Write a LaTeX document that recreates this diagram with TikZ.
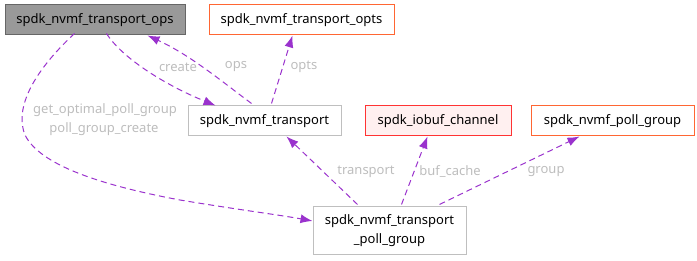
\documentclass[tikz,border=0pt]{standalone}
\usepackage{fontspec}
\setmainfont{Noto Sans}
\usetikzlibrary{arrows.meta,calc}
\definecolor{edgecol}{HTML}{9A32CD}
\definecolor{labcol}{HTML}{BDBDBD}
\definecolor{grayfill}{HTML}{999999}
\definecolor{grayline}{HTML}{666666}
\definecolor{boxline}{HTML}{BFBFBF}
\definecolor{orangeline}{HTML}{FF6633}
\definecolor{redline}{HTML}{FF3333}
\definecolor{pinkfill}{HTML}{FFF0F0}
\tikzset{
  box/.style={draw=boxline, line width=1pt, fill=white, inner sep=0pt, minimum height=30, align=center, font=\fontsize{13}{19}\selectfont},
  mainbox/.style={box, draw=grayline, fill=grayfill},
  extbox/.style={box, draw=orangeline},
  redbox/.style={box, draw=redline, fill=pinkfill},
  rel/.style={draw=edgecol, line width=1pt, dash pattern=on 6pt off 4pt, -{Latex[length=12pt,width=9pt]}},
  lab/.style={text=labcol, font=\fontsize{13}{19}\selectfont, inner sep=1pt}
}
\begin{document}
\begin{tikzpicture}[x=1pt,y=-1pt]
\useasboundingbox (0,0) rectangle (697,261);
\node[mainbox, minimum width=180] (ops) at (95,20) {spdk\_nvmf\_transport\_ops};
\node[extbox, minimum width=185] (opts) at (301.5,20) {spdk\_nvmf\_transport\_opts};
\node[box, minimum width=153] (tr) at (264.5,121) {spdk\_nvmf\_transport};
\node[redbox, minimum width=146] (iob) at (438,121) {spdk\_iobuf\_channel};
\node[extbox, minimum width=163] (pg) at (612.5,121) {spdk\_nvmf\_poll\_group};
\node[box, minimum width=153, minimum height=48] (tpg) at (389.5,231) {spdk\_nvmf\_transport\\\_poll\_group};

\draw[rel] ($(ops.south west)+(102,-2)$) .. controls (122,58) and (165,85) .. ($(tr.north west)+(28,0)$);
\draw[rel] ($(tr.north west)+(64,-2)$) .. controls (220,80) and (190,55) .. ($(ops.south west)+(143,0)$);
\draw[rel] ($(tr.north west)+(84,-2)$) -- ($(opts.south west)+(84,0)$);
\draw[rel] ($(ops.south west)+(70,-2)$) .. controls (30,75) and (15,110) .. (25,135)
  .. controls (40,165) and (100,185) .. (180,200) .. controls (240,210) and (280,215) .. ($(tpg.west)+(0,-10)$);
\draw[rel] ($(tpg.north west)+(45,-2)$) -- ($(tr.south west)+(99,0)$);
\draw[rel] ($(tpg.north west)+(89,-2)$) -- ($(iob.south west)+(63,0)$);
\draw[rel] ($(tpg.north west)+(127,-2)$) -- ($(pg.south west)+(49,0)$);

\node[lab] (lcreate) at (178,67) {create};
\node[lab] (lops) at (236,67) {ops};
\node[lab] (lopts) at (304,67) {opts};
\node[lab] (lget) at (105,110) {get\_optimal\_poll\_group};
\node[lab] (lpgc) at (104,129) {poll\_group\_create};
\node[lab] (ltr) at (366,172) {transport};
\node[lab] (lbuf) at (450,172) {buf\_cache};
\node[lab] (lgrp) at (546,172) {group};
\end{tikzpicture}
\end{document}
